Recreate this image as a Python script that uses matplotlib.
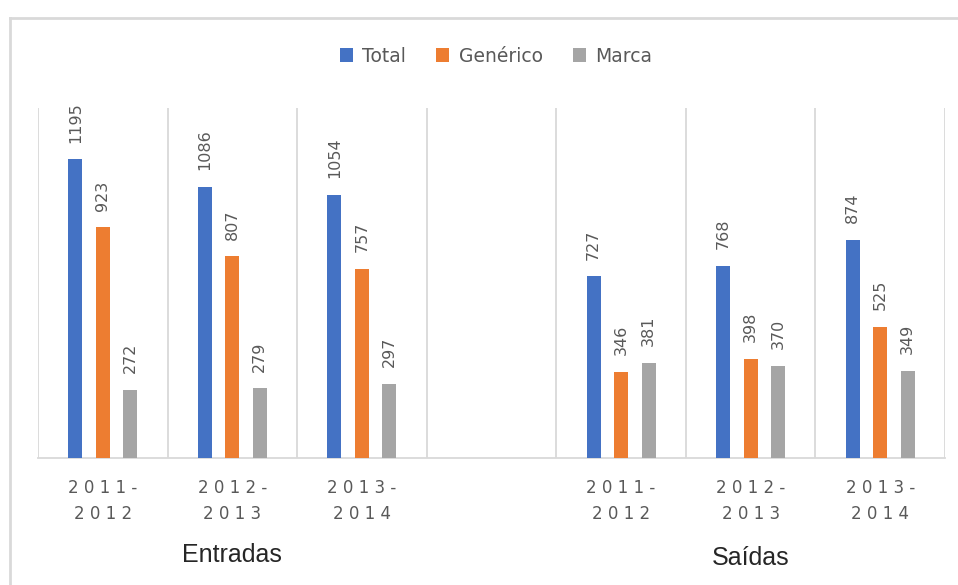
import matplotlib.pyplot as plt
from matplotlib.patches import Patch
from matplotlib.lines import Line2D

# data
groups = ['Entradas', 'Saídas']
periods = ['2 0 1 1 -\n2 0 1 2', '2 0 1 2 -\n2 0 1 3', '2 0 1 3 -\n2 0 1 4']
series = ['Total', 'Genérico', 'Marca']
total = [1195, 1086, 1054, 727, 768, 874]
generico = [923, 807, 757, 346, 398, 525]
marca = [272, 279, 297, 381, 370, 349]

colors = ['#4472C4', '#ED7D31', '#A5A5A5']
grid_c = '#d9d9d9'
text_c = '#595959'

# slot 3 is the empty category between the two groups
pos = [0, 1, 2, 4, 5, 6]

fig = plt.figure(figsize=(9.58, 5.85), dpi=100)
W, H = 958, 585
ax = fig.add_axes([38 / W, (H - 458) / H, (945 - 38) / W, (458 - 108) / H])

width = 0.108
step = 0.212
for i, vals in enumerate([total, generico, marca]):
    xs = [p + (i - 1) * step for p in pos]
    bars = ax.bar(xs, vals, width=width, color=colors[i], zorder=3)
    for b, v in zip(bars, vals):
        ax.annotate(str(v), (b.get_x() + b.get_width() / 2, b.get_height()),
                    xytext=(0, 12), textcoords='offset points',
                    rotation=90, ha='center', va='bottom',
                    fontsize=11.5, color=text_c)

ax.set_xlim(-0.5, 6.5)
ax.set_ylim(0, 1400)

# category separators
for x in [-0.5, 0.5, 1.5, 2.5, 3.5, 4.5, 5.5, 6.5]:
    ax.axvline(x, color=grid_c, lw=1.3, zorder=1)

for s in ['top', 'left', 'right']:
    ax.spines[s].set_visible(False)
ax.spines['bottom'].set_color(grid_c)
ax.spines['bottom'].set_linewidth(1.3)
ax.set_yticks([])
ax.set_xticks(pos)
ax.set_xticklabels(periods * 2, fontsize=12, color=text_c, linespacing=1.55)
ax.tick_params(axis='x', length=0, pad=15)

# group labels
trans = ax.get_xaxis_transform()
ax.text(1, -0.277, groups[0], transform=trans, ha='center', va='center',
        fontsize=18, family='Liberation Sans', color='#262626')
ax.text(5, -0.286, groups[1], transform=trans, ha='center', va='center',
        fontsize=18, family='Liberation Sans', color='#262626')

handles = [Patch(facecolor=c, label=s) for c, s in zip(colors, series)]
leg = fig.legend(handles=handles, loc='center', bbox_to_anchor=(496 / W, (H - 56) / H),
                 ncol=3, frameon=False, fontsize=13.5, handlelength=0.7, handleheight=0.7,
                 handletextpad=0.5, columnspacing=1.6)
for t in leg.get_texts():
    t.set_color(text_c)

# outer chart frame (only top and left edges are visible)
fig.add_artist(Line2D([10 / W, 1], [(H - 18) / H] * 2, transform=fig.transFigure,
                      color=grid_c, lw=2))
fig.add_artist(Line2D([10 / W] * 2, [0, (H - 18) / H], transform=fig.transFigure,
                      color=grid_c, lw=2))

fig.savefig('out.png', dpi=100)
